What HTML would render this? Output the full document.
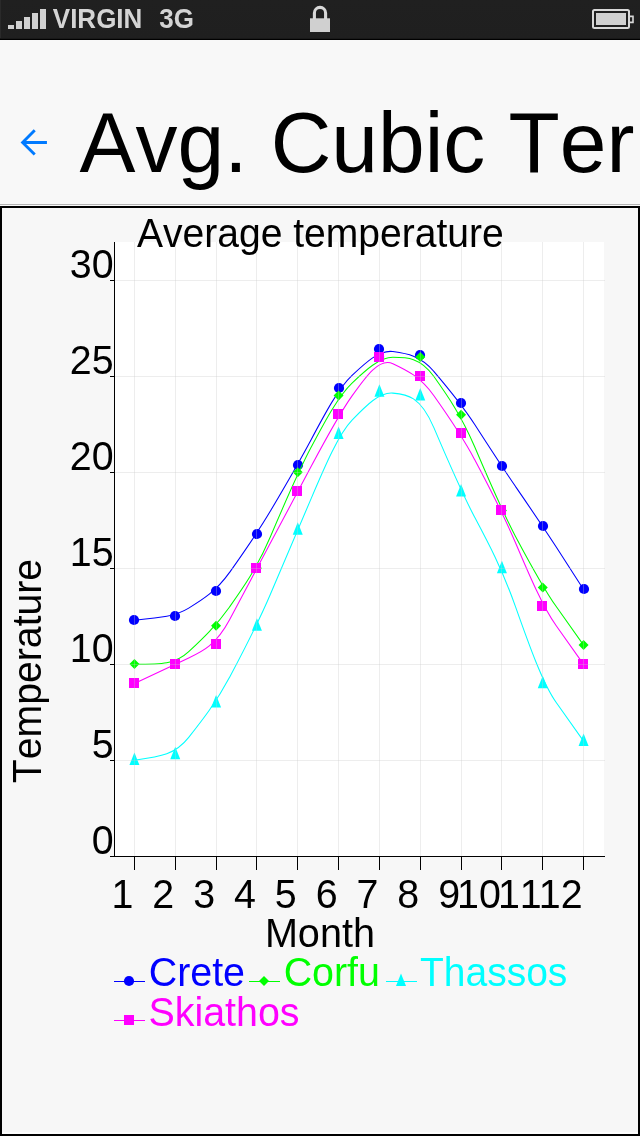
<!DOCTYPE html>
<html lang="en">
<head>
<meta charset="utf-8">
<title>Avg. Cubic Temperatures</title>
<style>
html,body{margin:0;padding:0;}
body{width:640px;height:1136px;overflow:hidden;background:#f8f8f8;position:relative;font-family:"Liberation Sans",sans-serif;}
.sb{position:absolute;left:0;top:0;width:640px;height:40px;background:linear-gradient(#202020 0,#1f1f1f 38px,#181818 38px,#181818 39px,#000 39px,#000 40px);}
.sb:before{content:"";position:absolute;left:0;top:0;width:1px;height:38px;background:#2a2a2a;}
.sb .txt{position:absolute;top:0;height:38px;line-height:38px;font-weight:bold;font-size:26px;color:#d4d4d4;white-space:nowrap;font-kerning:none;transform:translateY(-0.2px) scaleY(1.045);}
.sb svg{position:absolute;left:0;top:0;}
.nav{position:absolute;left:0;top:40px;width:640px;height:164px;overflow:hidden;}
.nav h1{font-kerning:none;position:absolute;left:79.6px;top:0;margin:0;font-weight:normal;font-size:83.9px;line-height:100px;height:100px;white-space:nowrap;color:#000;transform-origin:0 0;transform:translateY(51.8px) scaleY(1.015);}
.nav svg{position:absolute;left:14px;top:84px;}
.sep{position:absolute;left:0;top:204px;width:640px;height:1px;background:#b4b4b4;}
.box{position:absolute;left:0;top:206px;width:640px;height:930px;box-sizing:border-box;border:2px solid #000;background:#f7f7f7;box-shadow:inset 0 -2px 0 #fdfdfd;}
.chart{position:absolute;left:0;top:0;}
.chart text{font-kerning:none;font-family:"Liberation Sans",sans-serif;font-size:40px;}
</style>
</head>
<body>
<div class="sb">
<svg width="640" height="40" viewBox="0 0 640 40">
<g fill="#d0d0d0">
<rect x="8" y="25" width="6" height="4"/><rect x="16" y="21" width="6" height="8"/><rect x="24" y="17" width="6" height="12"/><rect x="32" y="13" width="6" height="16"/><rect x="40" y="9" width="6" height="20"/>
<rect x="310" y="18.3" width="20" height="13.7"/>
<path d="M314.4 19V13a5.6 5.6 0 0 1 11.2 0V19" fill="none" stroke="#d8d8d8" stroke-width="3.1"/>
<rect x="596" y="13" width="30" height="12"/>
</g>
<rect x="593" y="10" width="36" height="18" rx="1.5" fill="none" stroke="#d8d8d8" stroke-width="2"/>
<path d="M630 16.4h3v6h-3" fill="none" stroke="#d8d8d8" stroke-width="1.6"/>
</svg>
<span class="txt" style="left:52.8px">VIRGIN</span>
<span class="txt" style="left:159.2px">3G</span>
</div>
<div class="nav">
<svg width="40" height="36" viewBox="0 0 40 36"><path d="M20.73 6.33L8.61 18.45L20.73 30.57M8.61 18.45H32.94" fill="none" stroke="#007aff" stroke-width="2.9" stroke-linejoin="miter" stroke-miterlimit="10"/></svg>
<h1>Avg. Cubic Ter</h1>
</div>
<div class="sep"></div>
<div class="box"></div>
<svg class="chart" width="640" height="1136" viewBox="0 0 640 1136">
<rect x="114" y="242" width="490" height="614" fill="#ffffff"/>
<g><path d="M134.42 620.19C161.78 617.62 175.25 616.36 188.72 608.12C202.61 599.64 216.08 591.41 229.56 572.42C243.44 552.85 256.92 533.85 270.39 511.06C284.27 487.57 297.75 464.78 311.23 439.45C325.11 413.35 338.58 388.03 352.06 375.36C365.94 362.31 379.42 349.65 392.89 351.55C406.77 353.51 420.25 355.41 433.73 371.24C447.61 387.55 461.08 403.37 474.56 424.27C488.44 445.8 501.92 466.69 515.39 486.32C529.27 506.55 542.75 526.18 556.23 547.07C570.11 568.6 583.58 589.49 583.58 589.49" fill="none" stroke="#0000ff" stroke-width="1.05"/>
<circle cx="134" cy="620" r="5.1" fill="#0000ff"/>
<circle cx="175" cy="616" r="5.1" fill="#0000ff"/>
<circle cx="216" cy="591" r="5.1" fill="#0000ff"/>
<circle cx="257" cy="534" r="5.1" fill="#0000ff"/>
<circle cx="298" cy="465" r="5.1" fill="#0000ff"/>
<circle cx="339" cy="388" r="5.1" fill="#0000ff"/>
<circle cx="379" cy="349" r="5.1" fill="#0000ff"/>
<circle cx="420" cy="355" r="5.1" fill="#0000ff"/>
<circle cx="461" cy="403" r="5.1" fill="#0000ff"/>
<circle cx="502" cy="466" r="5.1" fill="#0000ff"/>
<circle cx="543" cy="526" r="5.1" fill="#0000ff"/>
<circle cx="584" cy="589" r="5.1" fill="#0000ff"/>
</g>
<g><path d="M134.42 664.33C161.78 664.33 175.25 664.33 188.72 651.66C202.61 638.61 216.08 625.95 229.56 606.95C243.44 587.38 256.92 568.39 270.39 536.73C284.27 504.11 297.75 472.45 311.23 447.12C325.11 421.03 338.58 395.7 352.06 383.04C365.94 369.99 379.42 357.32 392.89 357.32C406.77 357.32 420.25 357.32 433.73 376.32C447.61 395.89 461.08 414.89 474.56 446.55C488.44 479.17 501.92 510.82 515.39 536.15C529.27 562.25 542.75 587.58 556.23 606.57C570.11 626.14 583.58 645.14 583.58 645.14" fill="none" stroke="#00ff00" stroke-width="1.05"/>
<path d="M134.42 659.12L139.42 664.12L134.42 669.12L129.42 664.12Z" fill="#00ff00"/>
<path d="M175.25 659.12L180.25 664.12L175.25 669.12L170.25 664.12Z" fill="#00ff00"/>
<path d="M216.08 620.75L221.08 625.75L216.08 630.75L211.08 625.75Z" fill="#00ff00"/>
<path d="M256.92 563.19L261.92 568.19L256.92 573.19L251.92 568.19Z" fill="#00ff00"/>
<path d="M297.75 467.25L302.75 472.25L297.75 477.25L292.75 472.25Z" fill="#00ff00"/>
<path d="M338.58 390.5L343.58 395.5L338.58 400.5L333.58 395.5Z" fill="#00ff00"/>
<path d="M379.42 352.12L384.42 357.12L379.42 362.12L374.42 357.12Z" fill="#00ff00"/>
<path d="M420.25 352.12L425.25 357.12L420.25 362.12L415.25 357.12Z" fill="#00ff00"/>
<path d="M461.08 409.69L466.08 414.69L461.08 419.69L456.08 414.69Z" fill="#00ff00"/>
<path d="M501.92 505.62L506.92 510.62L501.92 515.62L496.92 510.62Z" fill="#00ff00"/>
<path d="M542.75 582.38L547.75 587.38L542.75 592.38L537.75 587.38Z" fill="#00ff00"/>
<path d="M583.58 639.94L588.58 644.94L583.58 649.94L578.58 644.94Z" fill="#00ff00"/>
</g>
<g><path d="M134.42 760.26C161.78 756.41 175.25 754.51 188.72 737.41C202.61 719.8 216.08 702.7 229.56 677.37C243.44 651.28 256.92 625.95 270.39 594.29C284.27 561.67 297.75 530.01 311.23 498.35C325.11 465.73 338.58 434.07 352.06 420.14C365.94 405.79 379.42 391.86 392.89 393.13C406.77 394.43 420.25 395.7 433.73 427.36C447.61 459.98 461.08 491.64 474.56 516.97C488.44 543.06 501.92 568.39 515.39 606.38C529.27 645.52 542.75 683.51 556.23 702.51C570.11 722.08 583.58 741.08 583.58 741.08" fill="none" stroke="#00ffff" stroke-width="1.05"/>
<path d="M134.42 752.56L139.42 765.06L129.42 765.06Z" fill="#00ffff"/>
<path d="M175.25 746.81L180.25 759.31L170.25 759.31Z" fill="#00ffff"/>
<path d="M216.08 695L221.08 707.5L211.08 707.5Z" fill="#00ffff"/>
<path d="M256.92 618.25L261.92 630.75L251.92 630.75Z" fill="#00ffff"/>
<path d="M297.75 522.31L302.75 534.81L292.75 534.81Z" fill="#00ffff"/>
<path d="M338.58 426.38L343.58 438.88L333.58 438.88Z" fill="#00ffff"/>
<path d="M379.42 384.16L384.42 396.66L374.42 396.66Z" fill="#00ffff"/>
<path d="M420.25 388L425.25 400.5L415.25 400.5Z" fill="#00ffff"/>
<path d="M461.08 483.94L466.08 496.44L456.08 496.44Z" fill="#00ffff"/>
<path d="M501.92 560.69L506.92 573.19L496.92 573.19Z" fill="#00ffff"/>
<path d="M542.75 675.81L547.75 688.31L537.75 688.31Z" fill="#00ffff"/>
<path d="M583.58 733.38L588.58 745.88L578.58 745.88Z" fill="#00ffff"/>
</g>
<g><path d="M134.42 683.51C161.78 670.66 175.25 664.33 188.72 657.99C202.61 651.47 216.08 645.14 229.56 619.81C243.44 593.72 256.92 568.39 270.39 543.06C284.27 516.97 297.75 491.64 311.23 466.31C325.11 440.21 338.58 414.89 352.06 395.89C365.94 376.32 379.42 357.32 392.89 363.66C406.77 370.18 420.25 376.51 433.73 395.51C447.61 415.08 461.08 434.07 474.56 459.4C488.44 485.5 501.92 510.82 515.39 542.48C529.27 575.1 542.75 606.76 556.23 625.76C570.11 645.33 583.58 664.33 583.58 664.33" fill="none" stroke="#ff00ff" stroke-width="1.05"/>
<rect x="129" y="678" width="10" height="10" fill="#ff00ff"/>
<rect x="170" y="659" width="10" height="10" fill="#ff00ff"/>
<rect x="211" y="639" width="10" height="10" fill="#ff00ff"/>
<rect x="251" y="563" width="10" height="10" fill="#ff00ff"/>
<rect x="292" y="486" width="10" height="10" fill="#ff00ff"/>
<rect x="333" y="409" width="10" height="10" fill="#ff00ff"/>
<rect x="374" y="352" width="10" height="10" fill="#ff00ff"/>
<rect x="415" y="371" width="10" height="10" fill="#ff00ff"/>
<rect x="456" y="428" width="10" height="10" fill="#ff00ff"/>
<rect x="496" y="505" width="10" height="10" fill="#ff00ff"/>
<rect x="537" y="601" width="10" height="10" fill="#ff00ff"/>
<rect x="578" y="659" width="10" height="10" fill="#ff00ff"/>
</g>
<path d="M134.5 242V856M175.5 242V856M216.5 242V856M256.5 242V856M297.5 242V856M338.5 242V856M379.5 242V856M420.5 242V856M461.5 242V856M501.5 242V856M542.5 242V856M583.5 242V856M115 760.5H605M115 664.5H605M115 568.5H605M115 472.5H605M115 376.5H605M115 280.5H605" stroke="#c8c8c8" stroke-opacity="0.33" stroke-width="1" fill="none"/>
<path d="M114.5 242V856M110 856.5H605M134.5 857V870M175.5 857V870M216.5 857V870M256.5 857V870M297.5 857V870M338.5 857V870M379.5 857V870M420.5 857V870M461.5 857V870M501.5 857V870M542.5 857V870M583.5 857V870M110 760.5H114M110 664.5H114M110 568.5H114M110 472.5H114M110 376.5H114M110 280.5H114" stroke="#000" stroke-width="1" fill="none"/>
<text transform="translate(320.35 247) scale(0.9765 1.005)" text-anchor="middle">Average temperature</text>
<text transform="translate(113.6 854) scale(0.985 1.02)" text-anchor="end">0</text>
<text transform="translate(113.6 758) scale(0.985 1.02)" text-anchor="end">5</text>
<text transform="translate(113.6 662) scale(0.985 1.02)" text-anchor="end">10</text>
<text transform="translate(113.6 566) scale(0.985 1.02)" text-anchor="end">15</text>
<text transform="translate(113.6 470) scale(0.985 1.02)" text-anchor="end">20</text>
<text transform="translate(113.6 374) scale(0.985 1.02)" text-anchor="end">25</text>
<text transform="translate(113.6 278) scale(0.985 1.02)" text-anchor="end">30</text>
<text transform="translate(133.42 908) scale(0.985 1.018)" text-anchor="end">1</text>
<text transform="translate(174.25 908) scale(0.985 1.018)" text-anchor="end">2</text>
<text transform="translate(215.08 908) scale(0.985 1.018)" text-anchor="end">3</text>
<text transform="translate(255.92 908) scale(0.985 1.018)" text-anchor="end">4</text>
<text transform="translate(296.75 908) scale(0.985 1.018)" text-anchor="end">5</text>
<text transform="translate(337.58 908) scale(0.985 1.018)" text-anchor="end">6</text>
<text transform="translate(378.42 908) scale(0.985 1.018)" text-anchor="end">7</text>
<text transform="translate(419.25 908) scale(0.985 1.018)" text-anchor="end">8</text>
<text transform="translate(460.08 908) scale(0.985 1.018)" text-anchor="end">9</text>
<text transform="translate(500.92 908) scale(0.985 1.018)" text-anchor="end">10</text>
<text transform="translate(541.75 908) scale(0.985 1.018)" text-anchor="end">11</text>
<text transform="translate(582.58 908) scale(0.985 1.018)" text-anchor="end">12</text>
<text transform="translate(319.9 946.7) scale(0.99 1.02)" text-anchor="middle">Month</text>
<text transform="translate(41 671) rotate(-90) scale(0.9796 1.012)" text-anchor="middle">Temperature</text>
<path d="M114 981.5H145" stroke="#0000ff" stroke-width="1" fill="none"/>
<circle cx="129" cy="981" r="5.1" fill="#0000ff"/>
<text transform="translate(148.7 986.3) scale(0.985 1.03)" fill="#0000ff">Crete</text>
<path d="M249 981.5H280" stroke="#00ff00" stroke-width="1" fill="none"/>
<path d="M264 976L269 981L264 986L259 981Z" fill="#00ff00"/>
<text transform="translate(283.65 986.3) scale(0.985 1.03)" fill="#00ff00">Corfu</text>
<path d="M386 981.5H417" stroke="#00ffff" stroke-width="1" fill="none"/>
<path d="M401 973.5L406 986L396 986Z" fill="#00ffff"/>
<text transform="translate(420 986.3) scale(0.975 1.03)" fill="#00ffff">Thassos</text>
<path d="M114 1020.5H145" stroke="#ff00ff" stroke-width="1" fill="none"/>
<rect x="124" y="1015" width="10" height="10" fill="#ff00ff"/>
<text transform="translate(148.5 1025.7) scale(0.985 1.03)" fill="#ff00ff">Skiathos</text>
</svg>
</body>
</html>
